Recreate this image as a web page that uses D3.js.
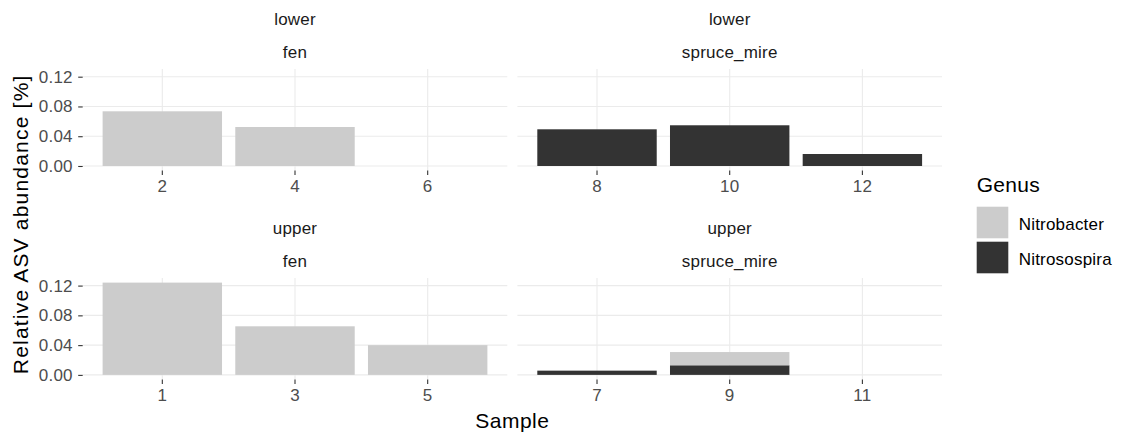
<!DOCTYPE html>
<html>
<head>
<meta charset="utf-8">
<script src="https://cdn.jsdelivr.net/npm/d3@7"></script>
<style>
  html, body { margin: 0; padding: 0; background: #fff; }
  svg { display: block; font-family: "Liberation Sans", Arial, sans-serif; }
</style>
</head>
<body>
<svg id="chart" width="1121" height="438"></svg>
<script>
// ---- data ----
const samples      = [1, 2, 3, 4, 5, 6, 7, 8, 9, 10, 11, 12];
const layers       = ["upper", "lower", "upper", "lower", "upper", "lower", "upper", "lower", "upper", "lower", "upper", "lower"];
const habitats     = ["fen", "fen", "fen", "fen", "fen", "fen", "spruce_mire", "spruce_mire", "spruce_mire", "spruce_mire", "spruce_mire", "spruce_mire"];
const nitrobacter  = [0.124, 0.0735, 0.0653, 0.0524, 0.040, 0, 0, 0, 0.0178, 0, 0, 0];
const nitrosospira = [0, 0, 0, 0, 0, 0, 0.0057, 0.0493, 0.0129, 0.0547, 0, 0.0161];
const genera       = ["Nitrobacter", "Nitrosospira"];
const genusColors  = ["#CCCCCC", "#333333"];
const yTicks       = [0, 0.04, 0.08, 0.12];
const panelDefs    = [
  { layer: "lower", habitat: "fen" },
  { layer: "lower", habitat: "spruce_mire" },
  { layer: "upper", habitat: "fen" },
  { layer: "upper", habitat: "spruce_mire" }
];

// ---- layout ----
const svg = d3.select("#chart");
const panelLeft = 82.7, panelW = 424.6, panelGap = 10.1;
const rowTops = [69.1, 278.0], panelH = 101.5;
const gridColor = "#EBEBEB";
const smallFont = 17, bigFont = 21, ls = "0.2px";

const rows = samples.map((s, i) => ({
  sample: s, layer: layers[i], habitat: habitats[i],
  values: [nitrobacter[i], nitrosospira[i]]
}));
const totals = rows.map(r => r.values[0] + r.values[1]);
const yMax = d3.max(totals);
const y0 = -0.05 * yMax, y1 = yMax * 1.05;

const color = d3.scaleOrdinal().domain(genera).range(genusColors);

panelDefs.forEach((p, pi) => {
  const col = pi % 2, row = Math.floor(pi / 2);
  const px = panelLeft + col * (panelW + panelGap);
  const py = rowTops[row];
  const data = rows.filter(r => r.layer === p.layer && r.habitat === p.habitat);

  const x = d3.scaleBand().domain(data.map(d => String(d.sample)))
    .range([0, panelW]).paddingInner(0.1).paddingOuter(0.15);
  const y = d3.scaleLinear().domain([y0, y1]).range([panelH, 0]);

  const g = svg.append("g").attr("transform", `translate(${px},${py})`);

  // gridlines
  g.selectAll(".hg").data(yTicks).join("line")
    .attr("x1", 0).attr("x2", panelW)
    .attr("y1", d => y(d)).attr("y2", d => y(d))
    .attr("stroke", gridColor).attr("stroke-width", 1.1);
  g.selectAll(".vg").data(x.domain()).join("line")
    .attr("x1", d => x(d) + x.bandwidth() / 2).attr("x2", d => x(d) + x.bandwidth() / 2)
    .attr("y1", 0).attr("y2", panelH)
    .attr("stroke", gridColor).attr("stroke-width", 1.1);

  // stacked bars (Nitrosospira at bottom, Nitrobacter on top)
  const stack = d3.stack().keys([1, 0]).value((d, k) => d.values[k]);
  const series = stack(data);
  series.forEach(s => {
    const k = s.key;
    g.append("g").selectAll("rect").data(s).join("rect")
      .attr("x", d => x(String(d.data.sample)))
      .attr("width", x.bandwidth())
      .attr("y", d => y(d[1]))
      .attr("height", d => Math.max(0, y(d[0]) - y(d[1])))
      .attr("fill", color(genera[k]));
  });

  // x axis
  const xa = g.append("g").attr("transform", `translate(0,${panelH})`)
    .call(d3.axisBottom(x).tickSize(4.5).tickPadding(5));
  xa.select(".domain").remove();
  xa.selectAll(".tick line").attr("stroke", "#333333").attr("stroke-width", 1.1);
  xa.selectAll(".tick text").attr("fill", "#4D4D4D").attr("font-size", smallFont)
    .attr("letter-spacing", ls)
    .attr("font-family", "Liberation Sans, Arial, sans-serif");

  // y axis (left column only)
  if (col === 0) {
    const ya = g.append("g")
      .call(d3.axisLeft(y).tickValues(yTicks).tickFormat(d3.format(".2f")).tickSize(4.5).tickPadding(5.5));
    ya.select(".domain").remove();
    ya.selectAll(".tick line").attr("stroke", "#333333").attr("stroke-width", 1.1);
    ya.selectAll(".tick text").attr("fill", "#4D4D4D").attr("font-size", smallFont)
      .attr("letter-spacing", ls)
      .attr("font-family", "Liberation Sans, Arial, sans-serif");
  }

  // strips
  g.append("text").attr("x", panelW / 2).attr("y", -44.3)
    .attr("text-anchor", "middle").attr("font-size", smallFont).attr("letter-spacing", ls)
    .attr("fill", "#1A1A1A").text(p.layer);
  g.append("text").attr("x", panelW / 2).attr("y", -11)
    .attr("text-anchor", "middle").attr("font-size", smallFont).attr("letter-spacing", ls)
    .attr("fill", "#1A1A1A").text(p.habitat);
});

// axis titles
const plotRight = panelLeft + 2 * panelW + panelGap;
svg.append("text").attr("x", (panelLeft + plotRight) / 2).attr("y", 428)
  .attr("text-anchor", "middle").attr("font-size", bigFont).attr("letter-spacing", "0.5px")
  .attr("fill", "#000").text("Sample");
svg.append("text").attr("transform", `translate(28,${(rowTops[0] + rowTops[1] + panelH) / 2}) rotate(-90)`)
  .attr("text-anchor", "middle").attr("font-size", bigFont).attr("letter-spacing", "1.2px")
  .attr("fill", "#000").text("Relative ASV abundance [%]");

// legend
const lg = svg.append("g").attr("transform", "translate(976.7,0)");
lg.append("text").attr("x", 0).attr("y", 192).attr("font-size", bigFont).attr("letter-spacing", "0.3px")
  .attr("fill", "#000").text("Genus");
genera.forEach((gname, i) => {
  lg.append("rect").attr("x", 0).attr("y", 206.7 + i * 35).attr("width", 31.6).attr("height", 31.6)
    .attr("fill", color(gname));
  lg.append("text").attr("x", 42).attr("y", 230 + i * 34.5)
    .attr("font-size", smallFont).attr("letter-spacing", ls).attr("fill", "#000").text(gname);
});
</script>
</body>
</html>
